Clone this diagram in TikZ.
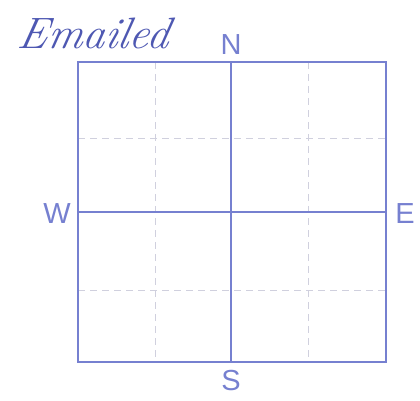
\documentclass[tikz,border=0pt]{standalone}
\usepackage{fontspec}
\setsansfont{Liberation Sans}
\definecolor{penblue}{RGB}{118,128,208}
\definecolor{gridgrey}{RGB}{208,208,222}
\definecolor{inkblue}{RGB}{78,88,178}
\tikzset{
  compass/.style={font=\sffamily\fontsize{29}{29}\selectfont, text=penblue, inner sep=0pt},
  quarter/.style={gridgrey, dashed, dash pattern=on 7pt off 5pt, line width=1pt},
  handwriting/.style={font=\itshape\fontsize{44}{44}\selectfont, text=inkblue, inner sep=0pt, xslant=0.2},
}
\begin{document}
\begin{tikzpicture}[x=1pt,y=-1pt]
  \useasboundingbox (0,0) rectangle (420,400);
  % quarter lines
  \foreach \p in {155,308} { \draw[quarter] (\p,62) -- (\p,362); }
  \foreach \p in {138,290} { \draw[quarter] (78,\p) -- (386,\p); }

  \draw[penblue, line width=1.4pt] (78,62) rectangle (386,362);
  \draw[penblue, line width=1.2pt] (231,62) -- (231,362);
  \draw[penblue, line width=1.2pt] (78,212) -- (386,212);

  \node[compass] (north) at (231,45) {N};
  \node[compass] (south) at (231,381) {S};
  \node[compass] (west)  at (57,214) {W};
  \node[compass] (east)  at (405,214) {E};

  \node[handwriting] (emailed) at (95,33) {Emailed};
\end{tikzpicture}
\end{document}
